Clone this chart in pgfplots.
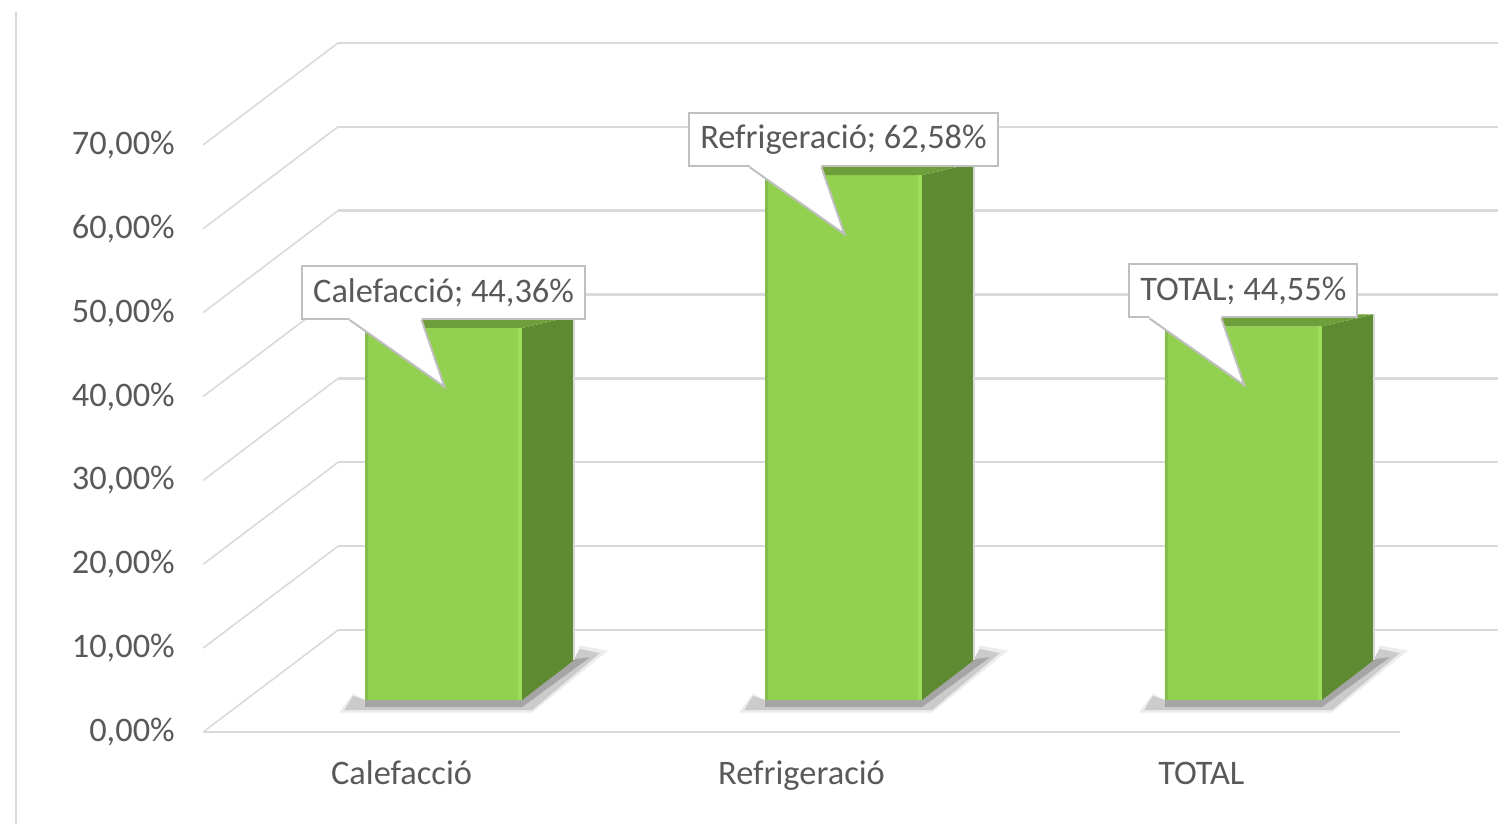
\documentclass[border=0pt]{standalone}
\usepackage{fontspec}
\setmainfont{Carlito}
\usepackage{pgfplots}
\usepackage{pgfplotstable}
\pgfplotsset{compat=1.18}
\pgfkeys{/pgf/number format/assume math mode=true}

\definecolor{frontgreen}{HTML}{92D050}
\definecolor{sidegreen}{HTML}{5E8A32}
\definecolor{topgreen}{HTML}{6E9F3B}
\definecolor{hiliteg}{HTML}{9CDD5A}
\definecolor{edgeg}{HTML}{86BC4C}
\definecolor{gridgray}{HTML}{DADADA}
\definecolor{txtgray}{HTML}{595959}
\definecolor{boxgray}{HTML}{BFBFBF}

\tikzset{callout box/.style={draw=boxgray, line width=1pt, fill=white, anchor=south,
    minimum height=26.5pt, inner xsep=5.5pt, text=txtgray,
    font=\fontsize{17.2}{20}\selectfont}}

% values in percent
\pgfplotstableread{
idx value
0 44.36
1 62.58
2 44.55
}\datatable

\begin{document}
\begin{tikzpicture}
\begin{axis}[
    scale only axis, width=749pt, height=412pt,
    xmin=-1.00375, xmax=2.74125, ymin=-14.775, ymax=83.437,
    axis line style={draw=none}, major tick length=0pt,
    xtick={0,1,2}, xticklabels={Calefacció,Refrigeració,TOTAL},
    ytick={-3.81,6.19,16.19,26.19,36.19,46.19,56.19,66.19},
    yticklabels={{0,00\%},{10,00\%},{20,00\%},{30,00\%},{40,00\%},{50,00\%},{60,00\%},{70,00\%}},
    tick label style={font=\fontsize{17.2}{20}\selectfont, text=txtgray},
    yticklabel style={anchor=east, inner sep=0pt, xshift=87.5pt},
    xticklabel style={anchor=base, inner sep=0pt, yshift=19.5pt},
    clip=true,
]
% chart border, floor edge
\addplot[gridgray, line width=1pt, forget plot] coordinates {(-0.96375,82.01) (-0.96375,-14.775)};
\addplot[gridgray, line width=1.2pt, forget plot] coordinates {(-0.49625,-3.81) (2.49625,-3.81)};
% back wall gridlines and side wall diagonals
\pgfplotsinvokeforeach{0,10,...,70}{
  \pgfmathsetmacro\yy{#1+8.35}
  \pgfmathsetmacro\yf{#1-3.81}
  \edef\tmp{\noexpand\addplot[gridgray, line width=1.2pt, forget plot] coordinates {(-0.15875,\yy) (2.74125,\yy)};
    \noexpand\addplot[gridgray, line width=0.8pt, forget plot] coordinates {(-0.49625,\yf) (-0.15875,\yy)};}
  \tmp
}
% soft shadows under the bars
\pgfplotsinvokeforeach{0,1,2}{
  \pgfmathsetmacro\xL{#1-0.09125}
  \pgfmathsetmacro\xR{#1+0.30125}
  \pgfmathsetmacro\sA{\xL-0.0525}
  \pgfmathsetmacro\sB{\xR+0.025}
  \pgfmathsetmacro\sC{\xR+0.195}
  \pgfmathsetmacro\sD{\xR+0.145}
  \pgfmathsetmacro\sE{\xR+0.13}
  \pgfmathsetmacro\sF{\xL-0.03}
  \pgfmathsetmacro\oA{\xL-0.065}
  \pgfmathsetmacro\oC{\xR+0.215}
  \pgfmathsetmacro\iC{\xR+0.17}
  \edef\tmp{\noexpand\addplot[draw=none, fill=gray, fill opacity=0.15, forget plot] coordinates {(\oA,-1.51) (\sB,-1.51) (\oC,5.89)
     (\sD,6.49) (\sE,4.89) (\xR,0) (\xL,0) (\sF,0.79)} --cycle;
   \noexpand\addplot[draw=none, fill=gray, fill opacity=0.3, forget plot] coordinates {(\sA,-1.21) (\sB,-1.21) (\sC,5.59)
     (\sD,6.09) (\sE,4.89) (\xR,0) (\xL,0) (\sF,0.49)} --cycle;
   \noexpand\addplot[draw=none, fill=gray, fill opacity=0.5, forget plot] coordinates {(\xL,-0.85) (\xR,-0.85) (\iC,5.1)
     (\sE,4.89) (\xR,0) (\xL,0)} --cycle;}
  \tmp
}
% front faces of the bars
\addplot[ybar, bar width=78.5pt, bar shift=21pt, draw=none, fill=frontgreen] table[x=idx, y=value]{\datatable};
% side and top faces, anchor points for the data labels
\pgfplotsinvokeforeach{0,1,2}{
  \pgfplotstablegetelem{#1}{value}\of\datatable
  \edef\val{\pgfplotsretval}
  \pgfmathsetmacro\vTs{\val+1.43}
  \pgfmathsetmacro\xL{#1-0.09125}
  \pgfmathsetmacro\xLb{\xL+0.05}
  \pgfmathsetmacro\xLe{\xL+0.0075}
  \pgfmathsetmacro\xR{#1+0.30125}
  \pgfmathsetmacro\xRh{\xR-0.01}
  \pgfmathsetmacro\xS{\xR+0.13}
  \pgfmathsetmacro\xc{#1+0.105}
  \pgfmathsetmacro\vbox{\val+0.954}
  \pgfmathsetmacro\vtip{\vbox-7.986}
  \pgfmathsetmacro\pbl{\xc-0.235}
  \pgfmathsetmacro\pbr{\xc-0.055}
  \pgfmathsetmacro\ptp{\xc+0.0025}
  \edef\nm{\ifcase#1 Calefacció\or Refrigeració\or TOTAL\fi}
  \expandafter\xdef\csname lab#1\endcsname{\nm; \noexpand\pgfmathprintnumber[fixed,fixed zerofill,precision=2,use comma]{\val}\noexpand\%}
  \edef\tmp{%
    \noexpand\addplot[draw=none, fill=sidegreen, forget plot] coordinates {(\xR,0) (\xS,4.768) (\xS,\vTs) (\xR,\val)} --cycle;
    \noexpand\addplot[black!15, line width=0.8pt, forget plot] coordinates {(\xS,4.768) (\xS,\vTs)};
    \noexpand\addplot[draw=none, fill=topgreen, forget plot] coordinates {(\xL,\val) (\xR,\val) (\xS,\vTs) (\xLb,\vTs)} --cycle;
    \noexpand\addplot[draw=none, fill=hiliteg, forget plot] coordinates {(\xRh,0) (\xR,0) (\xR,\val) (\xRh,\val)} --cycle;
    \noexpand\addplot[draw=none, fill=edgeg, forget plot] coordinates {(\xL,0) (\xLe,0) (\xLe,\val) (\xL,\val)} --cycle;
    \noexpand\coordinate (box#1) at (axis cs:\xc,\vbox);
    \noexpand\coordinate (bl#1) at (axis cs:\pbl,\vbox);
    \noexpand\coordinate (br#1) at (axis cs:\pbr,\vbox);
    \noexpand\coordinate (tip#1) at (axis cs:\ptp,\vtip);
  }
  \tmp
}
\end{axis}
% callout data labels on top of everything
\foreach \i in {0,1,2}{
  \node[callout box] at (box\i) {\csname lab\i\endcsname};
  \fill[white] ([yshift=1.4pt]bl\i) -- (bl\i) -- (tip\i) -- (br\i) -- ([yshift=1.4pt]br\i) -- cycle;
  \draw[boxgray, line width=1pt] (bl\i) -- (tip\i) -- (br\i);
}
\end{tikzpicture}
\end{document}
